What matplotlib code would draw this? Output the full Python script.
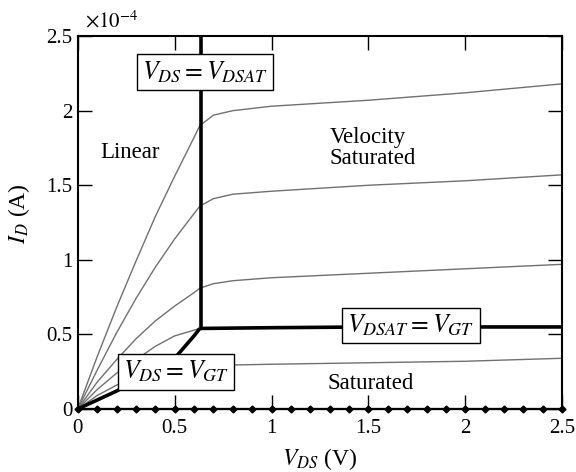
import matplotlib
matplotlib.use("Agg")
import matplotlib.pyplot as plt
from matplotlib.ticker import FuncFormatter

# drain current in units of 1e-4 A
v_top = [0, 0.1, 0.2, 0.3, 0.4, 0.5, 0.6, 0.63, 0.7, 0.8, 1.0, 1.5, 2.0, 2.5]
i_top = [0, 0.35, 0.68, 0.99, 1.29, 1.56, 1.82, 1.90, 1.97, 2.00, 2.03, 2.07, 2.12, 2.18]

v_2 = [0, 0.1, 0.2, 0.3, 0.4, 0.5, 0.6, 0.63, 0.7, 0.8, 0.9, 1.0, 1.5, 2.0, 2.5]
i_2 = [0, 0.26, 0.51, 0.74, 0.95, 1.14, 1.31, 1.36, 1.41, 1.44, 1.45, 1.46, 1.50, 1.53, 1.57]

v_3 = [0, 0.1, 0.2, 0.3, 0.4, 0.5, 0.6, 0.63, 0.7, 0.8, 1.0, 1.5, 2.0, 2.5]
i_3 = [0, 0.18, 0.33, 0.47, 0.59, 0.69, 0.78, 0.81, 0.84, 0.86, 0.88, 0.91, 0.94, 0.97]

v_4 = [0, 0.1, 0.2, 0.3, 0.4, 0.5, 0.63]
i_4 = [0, 0.13, 0.24, 0.33, 0.42, 0.49, 0.54]

v_5 = [0, 0.1, 0.2, 0.3, 0.4, 0.6, 1.0, 1.5, 2.0, 2.5]
i_5 = [0, 0.09, 0.16, 0.22, 0.27, 0.29, 0.30, 0.31, 0.32, 0.34]

v_off = [0, 0.1, 0.2, 0.3, 0.4, 0.5, 0.6, 0.7, 0.8, 0.9, 1.0, 1.1, 1.2,
         1.3, 1.4, 1.5, 1.6, 1.7, 1.8, 1.9, 2.0, 2.1, 2.2, 2.3, 2.4, 2.5]
i_off = [0] * len(v_off)

# region boundaries
v_gt_locus = [0, 0.1, 0.2, 0.3, 0.4, 0.5, 0.6, 0.63]
i_gt_locus = [0, 0.06, 0.12, 0.19, 0.26, 0.34, 0.49, 0.54]
v_dsat_line = [0.63, 1.0, 1.5, 2.0, 2.5]
i_dsat_line = [0.54, 0.545, 0.55, 0.55, 0.55]
v_dsat = 0.635

x_ticks = [0, 0.5, 1, 1.5, 2, 2.5]
y_ticks = [0, 0.5, 1, 1.5, 2, 2.5]

plt.rcParams["font.family"] = "serif"
plt.rcParams["font.serif"] = ["Liberation Serif", "DejaVu Serif"]
plt.rcParams["mathtext.fontset"] = "stix"

fig = plt.figure(figsize=(5.76, 4.72), dpi=100)
ax = fig.add_axes([0.135, 0.1335, 0.841, 0.79])

gray = "#707070"
for v, i in [(v_top, i_top), (v_2, i_2), (v_3, i_3), (v_4, i_4), (v_5, i_5)]:
    ax.plot(v, i, color=gray, lw=1.0)

ax.plot(v_off, i_off, color="black", lw=1.6, marker="D", ms=3.5, clip_on=False, zorder=4)

ax.plot(v_gt_locus, i_gt_locus, color="black", lw=2.6, solid_capstyle="butt")
ax.plot(v_dsat_line, i_dsat_line, color="black", lw=2.6, solid_capstyle="butt")
ax.plot([v_dsat, v_dsat], [i_dsat_line[0], 2.5], color="black", lw=2.6, solid_capstyle="butt")

ax.set_xlim(0, 2.5)
ax.set_ylim(0, 2.5)
ax.set_xticks(x_ticks)
ax.set_yticks(y_ticks)
fmt = FuncFormatter(lambda val, pos: "%g" % val)
ax.xaxis.set_major_formatter(fmt)
ax.yaxis.set_major_formatter(fmt)
ax.tick_params(direction="in", length=10, width=1.0, top=True, right=True, labelsize=15)
ax.tick_params(axis="x", pad=7)
ax.tick_params(axis="y", pad=4)
for sp in ax.spines.values():
    sp.set_linewidth(1.5)

ax.set_xlabel("$V_{DS}$ (V)", fontsize=17)
ax.xaxis.set_label_coords(0.5, -0.10)
ax.set_ylabel("$I_D$ (A)", fontsize=17)
ax.yaxis.set_label_coords(-0.095, 0.525)
fig.text(85 / 576, 1 - 22 / 472, r"$\times10^{-4}$", fontsize=15, ha="left", va="center")

box = dict(boxstyle="square,pad=0.2", facecolor="white", edgecolor="black", lw=1.0)
ax.text(0.656, 2.26, "$V_{DS} = V_{DSAT}$", fontsize=18.5, ha="center", va="center", bbox=box, zorder=6)
ax.text(0.506, 0.25, "$V_{DS} = V_{GT}$", fontsize=18.5, ha="center", va="center", bbox=box, zorder=6)
ax.text(1.72, 0.56, "$V_{DSAT} = V_{GT}$", fontsize=18.5, ha="center", va="center", bbox=box, zorder=6)

ax.text(0.27, 1.72, "Linear", fontsize=16.5, ha="center", va="center")
ax.text(1.30, 1.75, "Velocity\nSaturated", fontsize=16.5, ha="left", va="center", linespacing=1.0)
ax.text(1.51, 0.17, "Saturated", fontsize=16.5, ha="center", va="center")

fig.savefig("out.png", dpi=100)
